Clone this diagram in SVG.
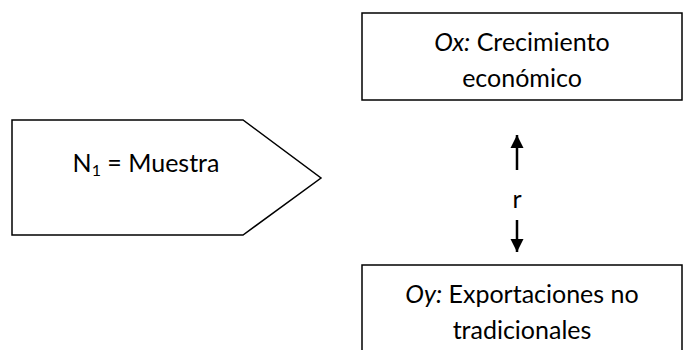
<svg xmlns="http://www.w3.org/2000/svg" width="683" height="350" viewBox="0 0 683 350">
<defs>
<style>
.shape{fill:#fff;stroke:#000;stroke-width:1.5}
.t{font-family:Lato,"Liberation Sans",sans-serif;font-size:25px;fill:#000;text-anchor:middle}
.conn{stroke:#000;stroke-width:2.5;fill:none}
</style>
<marker id="ah" viewBox="0 0 10 10" refX="10" refY="5" markerWidth="15" markerHeight="13" markerUnits="userSpaceOnUse" orient="auto" overflow="visible">
<path d="M0,0 L10,5 L0,10 Z" fill="#000"/>
</marker>
</defs>
<rect width="683" height="350" fill="#fff"/>
<g id="muestra">
<polygon class="shape" points="12,120 243,120 321,178 243,235 12,235"/>
<text class="t" x="146" y="172">N<tspan font-size="16" dy="4">1</tspan><tspan dy="-4"> = Muestra</tspan></text>
</g>
<g id="ox">
<rect class="shape" x="362" y="13" width="320" height="87"/>
<text class="t" x="522" y="51"><tspan font-style="italic">Ox:</tspan> Crecimiento</text>
<text class="t" x="522" y="87">económico</text>
</g>
<g id="oy">
<rect class="shape" x="362" y="265" width="320" height="100"/>
<text class="t" x="522" y="303"><tspan font-style="italic">Oy:</tspan> Exportaciones no</text>
<text class="t" x="522" y="339">tradicionales</text>
</g>
<g id="connectors">
<line x1="517" y1="170" x2="517" y2="135" class="conn" marker-end="url(#ah)"/>
<line x1="517" y1="220" x2="517" y2="252" class="conn" marker-end="url(#ah)"/>
<text class="t" x="517" y="208">r</text>
</g>
</svg>
